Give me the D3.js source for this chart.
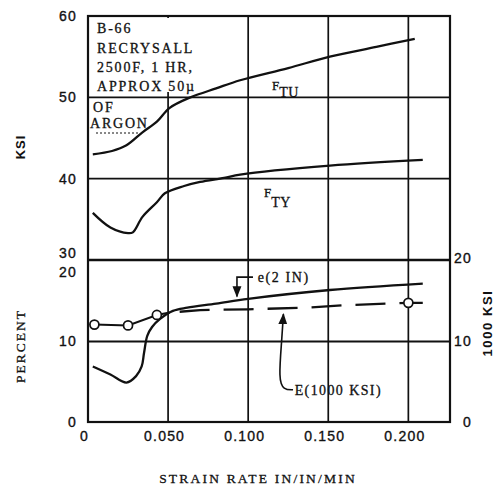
<!DOCTYPE html>
<html>
<head>
<meta charset="utf-8">
<script src="https://cdn.jsdelivr.net/npm/d3@7"></script>
<style>
  body { margin: 0; background: #fff; }
  .tick text { font-family: "Liberation Sans", sans-serif; font-size: 14px; letter-spacing: 1.2px; fill: #111; stroke: #111; stroke-width: 0.35px; }
  .lbl { font-family: "Liberation Serif", serif; fill: #111; stroke: #111; stroke-width: 0.3px; }
</style>
</head>
<body>
<script>
// F_TU (ksi)
const tuStrain = [0.003, 0.015, 0.024, 0.034, 0.043, 0.051, 0.064, 0.080, 0.095, 0.125, 0.151, 0.180, 0.204];
const tuKsi    = [43.0, 43.4, 44.1, 45.7, 47.0, 48.7, 50.0, 51.1, 52.1, 53.6, 55.0, 56.2, 57.2];
// F_TY (ksi)
const tyStrain = [0.003, 0.014, 0.025, 0.028, 0.034, 0.043, 0.048, 0.060, 0.070, 0.085, 0.095, 0.151, 0.209];
const tyKsi    = [35.8, 34.0, 33.3, 33.4, 35.3, 37.1, 38.2, 39.1, 39.6, 40.1, 40.5, 41.6, 42.3];
// e(2 IN) percent
const elStrain = [0.003, 0.014, 0.024, 0.030, 0.0335, 0.035, 0.037, 0.040, 0.045, 0.053, 0.062, 0.080, 0.100, 0.151, 0.209];
const elPct    = [6.9, 5.9, 4.9, 5.7, 6.9, 8.6, 10.7, 11.8, 12.8, 13.8, 14.2, 14.7, 15.3, 16.4, 17.2];
// E (1000 ksi): solid part, dashed part, test points
const modSolidStrain = [0.004, 0.025, 0.043, 0.051];
const modSolid       = [12.1, 12.0, 13.3, 13.6];
const modDashStrain  = [0.051, 0.070, 0.100, 0.137, 0.160, 0.200, 0.209];
const modDash        = [13.6, 13.9, 14.0, 14.2, 14.5, 14.8, 14.8];
const modPtStrain    = [0.004, 0.025, 0.043, 0.200];
const modPt          = [12.1, 12.0, 13.3, 14.8];

const xTicks = [0, 0.05, 0.1, 0.15, 0.2];
const ksiTicks = [30, 40, 50, 60];
const pctTicks = [0, 10, 20];
const noteLines = ["B-66", "RECRYSALL", "2500F, 1 HR,", "APPROX 50\u00b5", "OF", "ARGON"];

const w = 495, h = 491;
const pLeft = 88, pRight = 450, pTop = 16, pMid = 260, pBottom = 422;

const svg = d3.select('body').append('svg')
  .attr('width', w).attr('height', h);

const x = d3.scaleLinear().domain([0, 0.226]).range([pLeft, pRight]);
const yKsi = d3.scaleLinear().domain([30, 60]).range([pMid, pTop]);
const yPct = d3.scaleLinear().domain([0, 20]).range([pBottom, pMid + 1]);

const ink = '#111';

// grid
const grid = svg.append('g').attr('stroke', ink).attr('fill', 'none');
grid.selectAll('.vg').data(xTicks.slice(1)).enter().append('line')
  .attr('x1', d => x(d)).attr('x2', d => x(d))
  .attr('y1', pTop).attr('y2', pBottom).attr('stroke-width', 1.7);
grid.selectAll('.hk').data([40, 50]).enter().append('line')
  .attr('x1', pLeft).attr('x2', pRight)
  .attr('y1', d => yKsi(d)).attr('y2', d => yKsi(d)).attr('stroke-width', 1.8);
grid.append('line').attr('x1', pLeft).attr('x2', pRight)
  .attr('y1', yPct(10)).attr('y2', yPct(10)).attr('stroke-width', 1.8);
grid.append('line').attr('x1', pLeft).attr('x2', pRight)
  .attr('y1', yKsi(30)).attr('y2', yKsi(30)).attr('stroke-width', 2.6);

// note block
svg.append('rect').attr('x', pLeft + 1).attr('y', pTop + 2)
  .attr('width', 116).attr('height', 74).attr('fill', '#fff');
const noteX = [97, 97, 97, 97, 93, 90];
const noteY = [33, 53, 72, 91, 112, 128];
svg.append('g').selectAll('text').data(noteLines).enter().append('text')
  .attr('class', 'lbl')
  .attr('x', (d, i) => noteX[i]).attr('y', (d, i) => noteY[i])
  .attr('font-size', 14).attr('letter-spacing', 1.8)
  .text(d => d);
svg.append('line').attr('x1', 96).attr('x2', 140).attr('y1', 133).attr('y2', 133)
  .attr('stroke', ink).attr('stroke-width', 1).attr('stroke-dasharray', '2,2');

// curves
const line = d3.line().curve(d3.curveCatmullRom.alpha(0.5));
const zip = (xs, ys, ys2y) => xs.map((v, i) => [x(v), ys2y(ys[i])]);

svg.append('path').attr('d', line(zip(tuStrain, tuKsi, yKsi)))
  .attr('fill', 'none').attr('stroke', ink).attr('stroke-width', 2.3);
svg.append('path').attr('d', line(zip(tyStrain, tyKsi, yKsi)))
  .attr('fill', 'none').attr('stroke', ink).attr('stroke-width', 2.3);
svg.append('path').attr('d', line(zip(elStrain, elPct, yPct)))
  .attr('fill', 'none').attr('stroke', ink).attr('stroke-width', 2.3);
svg.append('path').attr('d', d3.line()(zip(modSolidStrain, modSolid, yPct)))
  .attr('fill', 'none').attr('stroke', ink).attr('stroke-width', 2);
svg.append('path').attr('d', d3.line()(zip(modDashStrain, modDash, yPct)))
  .attr('fill', 'none').attr('stroke', ink).attr('stroke-width', 2.3)
  .attr('stroke-dasharray', '30,14').attr('stroke-dashoffset', -10);
svg.selectAll('.pt').data(modPtStrain).enter().append('circle')
  .attr('cx', d => x(d)).attr('cy', (d, i) => yPct(modPt[i])).attr('r', 4.5)
  .attr('fill', '#fff').attr('stroke', ink).attr('stroke-width', 1.7);

// curve labels
const ftu = svg.append('text').attr('class', 'lbl').attr('x', 272).attr('y', 90).attr('font-size', 13);
ftu.append('tspan').text('F');
ftu.append('tspan').attr('dy', 7).attr('font-size', 14).attr('letter-spacing', 0.5).text('TU');
const fty = svg.append('text').attr('class', 'lbl').attr('x', 264).attr('y', 197).attr('font-size', 13);
fty.append('tspan').text('F');
fty.append('tspan').attr('dy', 10).attr('font-size', 14).attr('letter-spacing', 0.5).text('TY');

// leaders
svg.append('defs').append('marker').attr('id', 'arr')
  .attr('viewBox', '0 0 10 10').attr('refX', 9).attr('refY', 5)
  .attr('markerWidth', 7).attr('markerHeight', 7).attr('orient', 'auto-start-reverse')
  .append('path').attr('d', 'M0,1 L10,5 L0,9 Z').attr('fill', ink);

const eLead = [[0.103, 18.0], [0.093, 18.0], [0.093, 15.6]];
svg.append('path').attr('d', d3.line().curve(d3.curveLinear)(eLead.map(p => [x(p[0]), yPct(p[1])])))
  .attr('fill', 'none').attr('stroke', ink).attr('stroke-width', 1.6).attr('marker-end', 'url(#arr)');
svg.append('text').attr('class', 'lbl').attr('x', x(0.106)).attr('y', yPct(17.4))
  .attr('font-size', 14).attr('letter-spacing', 1.6).text('e(2 IN)');

const bigLead = [[0.128, 4.0], [0.122, 4.0], [0.119, 5.3], [0.121, 10.2], [0.122, 13.4]];
svg.append('path').attr('d', d3.line().curve(d3.curveBasis)(bigLead.map(p => [x(p[0]), yPct(p[1])])))
  .attr('fill', 'none').attr('stroke', ink).attr('stroke-width', 1.6).attr('marker-end', 'url(#arr)');
svg.append('text').attr('class', 'lbl').attr('x', x(0.129)).attr('y', yPct(3.4))
  .attr('font-size', 14).attr('letter-spacing', 1.4).text('E(1000 KSI)');

// frame
svg.append('rect').attr('x', pLeft).attr('y', pTop)
  .attr('width', pRight - pLeft).attr('height', pBottom - pTop)
  .attr('fill', 'none').attr('stroke', ink).attr('stroke-width', 2.2);

// axes
const axL1 = svg.append('g').attr('transform', 'translate(' + (pLeft - 11) + ',0)')
  .call(d3.axisLeft(yKsi).tickValues(ksiTicks).tickSize(0).tickPadding(0));
axL1.selectAll('.tick text').attr('dy', d => d === 30 ? '-0.2em' : '0.32em');
const axL2 = svg.append('g').attr('transform', 'translate(' + (pLeft - 11) + ',0)')
  .call(d3.axisLeft(yPct).tickValues(pctTicks).tickSize(0).tickPadding(0));
axL2.selectAll('.tick text').attr('dy', d => d === 20 ? '1.1em' : '0.32em');
const axR = svg.append('g').attr('transform', 'translate(' + (pRight + 22) + ',0)')
  .call(d3.axisLeft(yPct).tickValues(pctTicks).tickSize(0).tickPadding(0));
axR.selectAll('.tick text').attr('dy', d => d === 20 ? '0.1em' : '0.32em');
const axB = svg.append('g').attr('transform', 'translate(-4,' + (pBottom + 9) + ')')
  .call(d3.axisBottom(x).tickValues(xTicks).tickSize(0).tickPadding(0)
    .tickFormat(d => d === 0 ? '0' : d3.format('.3f')(d)));
[axL1, axL2, axR, axB].forEach(a => a.select('.domain').remove());

// titles
svg.append('text').attr('transform', 'translate(25,147) rotate(-90)')
  .attr('text-anchor', 'middle').attr('font-family', 'Liberation Sans, sans-serif')
  .attr('font-weight', 'bold').attr('font-size', 13).attr('letter-spacing', 1).attr('fill', ink).text('KSI');
svg.append('text').attr('transform', 'translate(25,346) rotate(-90)')
  .attr('class', 'lbl').attr('text-anchor', 'middle')
  .attr('font-size', 13.5).attr('letter-spacing', 2).text('PERCENT');
svg.append('text').attr('transform', 'translate(492,323) rotate(-90)')
  .attr('text-anchor', 'middle').attr('font-family', 'Liberation Sans, sans-serif')
  .attr('font-weight', 'bold').attr('font-size', 13).attr('letter-spacing', 1.6).attr('fill', ink).text('1000 KSI');
svg.append('text').attr('class', 'lbl').attr('x', 258).attr('y', 483)
  .attr('text-anchor', 'middle').attr('font-size', 13.5).attr('letter-spacing', 2.2)
  .text('STRAIN RATE IN/IN/MIN');
</script>
</body>
</html>
